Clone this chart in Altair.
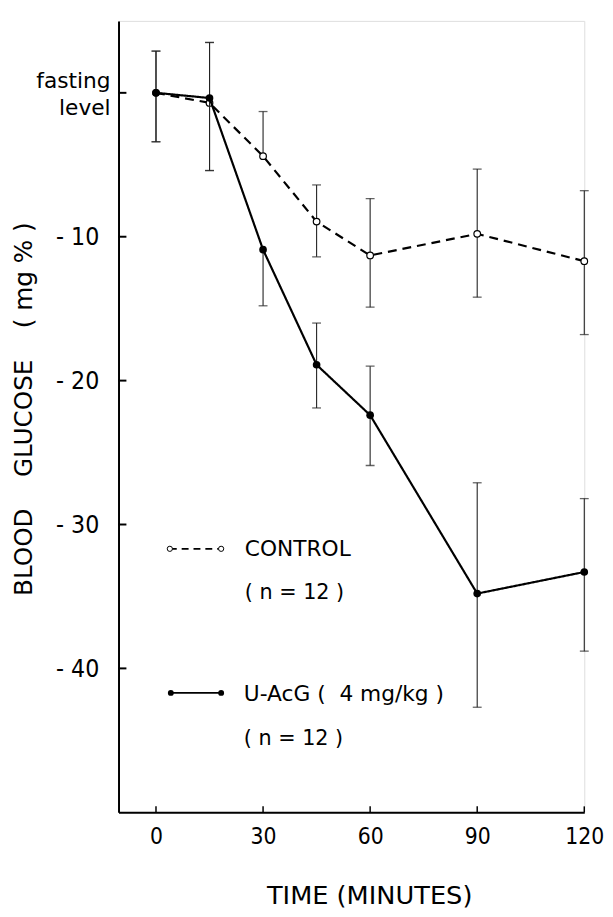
import altair as alt
import pandas as pd

# ---- data ----
times = [0, 15, 30, 45, 60, 90, 120]

control_mean = [0.0, -0.7, -4.4, -8.95, -11.3, -9.8, -11.7]
control_hi = [2.9, 3.5, -1.3, -6.4, -7.35, -5.3, -6.8]
control_lo = [-3.4, -5.4, -4.4, -11.4, -14.9, -14.2, -16.8]

uacg_mean = [0.0, -0.36, -10.9, -18.9, -22.4, -34.8, -33.3]
uacg_hi = [2.9, 3.5, -10.9, -16.0, -19.0, -27.1, -28.2]
uacg_lo = [-3.4, -5.4, -14.8, -21.9, -25.9, -42.7, -38.8]

x_ticks = [0, 30, 60, 90, 120]
y_ticks = [0, -10, -20, -30, -40]

FONT = "DejaVu Sans"
NARROW = "DejaVu Sans Condensed, Liberation Sans Narrow, DejaVu Sans"
NB = "\u00a0"
W, H = 472, 802

ctrl = pd.DataFrame({"time": times, "mean": control_mean, "lo": control_lo, "hi": control_hi})
uac = pd.DataFrame({"time": times, "mean": uacg_mean, "lo": uacg_lo, "hi": uacg_hi})


def caps(df):
    rows = []
    for _, r in df.iterrows():
        if r["hi"] != r["mean"]:
            rows.append({"time": r["time"], "v": r["hi"]})
        if r["lo"] != r["mean"]:
            rows.append({"time": r["time"], "v": r["lo"]})
    return pd.DataFrame(rows)


xs = alt.Scale(domain=[-10.5, 120], nice=False, zero=False)
ys = alt.Scale(domain=[-50, 5], nice=False, zero=False)

x_axis = alt.Axis(
    values=x_ticks, ticks=False, grid=False, domain=True, domainColor="black",
    domainWidth=2, labelFontSize=23, labelFont=NARROW, labelColor="black",
    labelPadding=14, title="TIME (MINUTES)", titleFont=FONT, titleFontSize=26,
    titleFontWeight="normal", titleColor="black", titleX=254, titleY=84,
    titleAlign="center", titleBaseline="middle", labelFlush=False,
)
y_axis = alt.Axis(
    values=y_ticks, ticks=False, grid=False, domain=True, domainColor="black",
    domainWidth=2, labelFontSize=25, labelFont=NARROW, labelColor="black",
    labelPadding=20, labelExpr="datum.value == 0 ? '' : '-\u00a0' + abs(datum.value)",
    title=f"BLOOD{NB*4}GLUCOSE{NB*4}({NB}mg{NB}%{NB})", titleFont=FONT, titleFontSize=25,
    titleFontWeight="normal", titleColor="black", titleX=-96, titleY=393,
    titleAlign="center", titleBaseline="middle", titleAngle=-90, labelFlush=False,
)


def series_layers(df, dashed, open_marker):
    base = alt.Chart(df)
    line = base.mark_line(color="black", strokeWidth=2.2,
                          strokeDash=[9, 6] if dashed else [1, 0]).encode(
        x=alt.X("time:Q", scale=xs, axis=x_axis),
        y=alt.Y("mean:Q", scale=ys, axis=y_axis),
    )
    bars = base.mark_rule(color="#222", strokeWidth=1.1).encode(
        x="time:Q", y="lo:Q", y2="hi:Q")
    cp = alt.Chart(caps(df)).mark_tick(orient="horizontal", size=9, thickness=1.3,
                                       color="#222").encode(x="time:Q", y="v:Q")
    if open_marker:
        pts = base.mark_point(shape="circle", filled=True, fill="white", stroke="black",
                              strokeWidth=1.2, size=45, opacity=1).encode(x="time:Q", y="mean:Q")
    else:
        pts = base.mark_point(shape="circle", filled=True, color="black",
                              size=60, opacity=1).encode(x="time:Q", y="mean:Q")
    return [bars, cp, line, pts]


one = pd.DataFrame({"k": [0]})

# axis ticks drawn inward
ytick = alt.Chart(pd.DataFrame({"v": y_ticks})).mark_rule(color="black", strokeWidth=2).encode(
    y=alt.Y("v:Q"), x=alt.value(0), x2=alt.value(8))
xtick = alt.Chart(pd.DataFrame({"t": x_ticks})).mark_rule(color="black", strokeWidth=1.5).encode(
    x=alt.X("t:Q"), y=alt.value(H), y2=alt.value(H - 6))

fasting = alt.Chart(pd.DataFrame({"v": [0]})).mark_text(
    align="right", baseline="alphabetic", font=FONT, fontSize=22, lineHeight=27,
    dy=-5, color="black").encode(
    y=alt.Y("v:Q"), x=alt.value(-8), text=alt.value(["fasting", "level"]))


def legend_text(txt, px, py, size=21):
    return alt.Chart(one).mark_text(align="left", baseline="middle", font=FONT,
                                    fontSize=size, color="black").encode(
        x=alt.value(px), y=alt.value(py), text=alt.value(txt))


leg_ctrl_line = alt.Chart(one).mark_rule(color="black", strokeWidth=1.8, strokeDash=[7, 5]).encode(
    x=alt.value(52), x2=alt.value(104), y=alt.value(535))
leg_ctrl_pts = alt.Chart(pd.DataFrame({"px": [52, 104]})).mark_point(
    shape="circle", filled=True, fill="white", stroke="black", strokeWidth=1, size=28, opacity=1).encode(
    x=alt.X("px:Q", scale=None), y=alt.value(535))
leg_u_line = alt.Chart(one).mark_rule(color="black", strokeWidth=2).encode(
    x=alt.value(53), x2=alt.value(104), y=alt.value(681))
leg_u_pts = alt.Chart(pd.DataFrame({"px": [53, 104]})).mark_point(
    shape="circle", filled=True, color="black", size=36, opacity=1).encode(
    x=alt.X("px:Q", scale=None), y=alt.value(681))

n_txt = f"({NB}n{NB}={NB}12{NB})"
layers = (series_layers(ctrl, True, True) + series_layers(uac, False, False) +
          [ytick, xtick, fasting, leg_ctrl_line, leg_ctrl_pts, leg_u_line, leg_u_pts,
           legend_text("CONTROL", 128, 535, 22),
           legend_text(n_txt, 128, 580, 21),
           legend_text(f"U-AcG{NB}({NB}{NB}4{NB}mg/kg{NB})", 127, 682, 22),
           legend_text(n_txt, 127, 728, 21)])

chart = alt.layer(*layers).properties(
    width=W, height=H,
    autosize=alt.AutoSizeParams(type="none"),
    padding={"left": 112, "top": 7, "right": 21, "bottom": 96},
).configure_view(stroke=None).configure(background="white")

chart.save("out.html", embed_options={"renderer": "svg", "actions": False})
